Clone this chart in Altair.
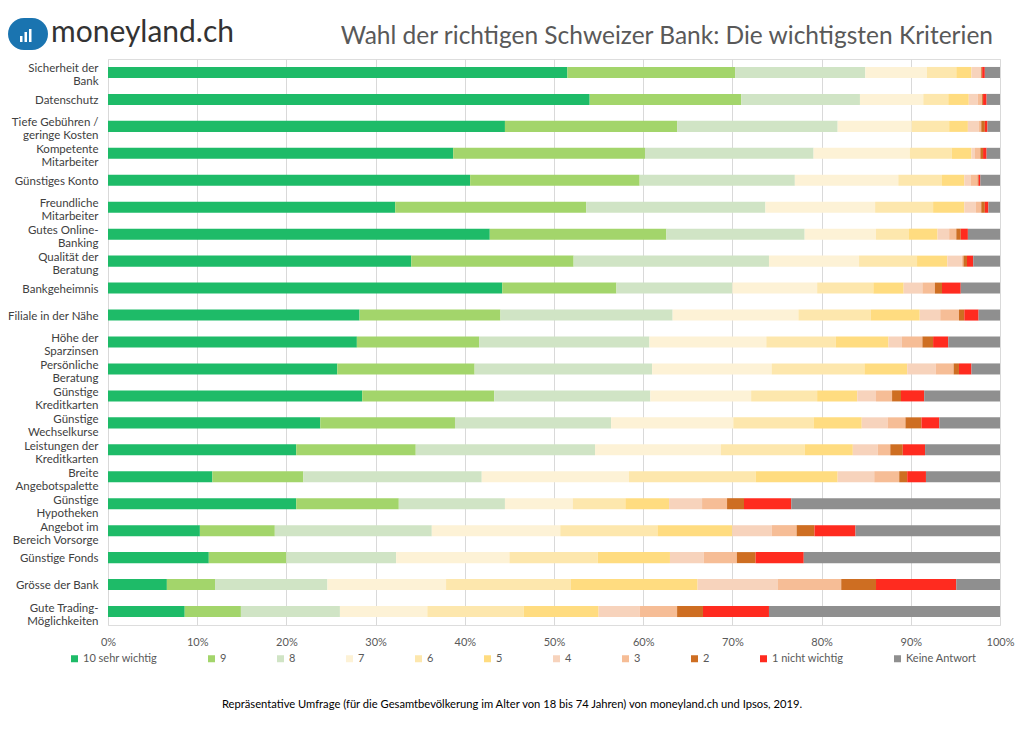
import altair as alt
import pandas as pd

# ---------------- data ----------------
categories = [
    "Sicherheit der|Bank", "Datenschutz", "Tiefe Gebühren /|geringe Kosten",
    "Kompetente|Mitarbeiter", "Günstiges Konto", "Freundliche|Mitarbeiter",
    "Gutes Online-|Banking", "Qualität der|Beratung", "Bankgeheimnis",
    "Filiale in der Nähe", "Höhe der|Sparzinsen", "Persönliche|Beratung",
    "Günstige|Kreditkarten", "Günstige|Wechselkurse", "Leistungen der|Kreditkarten",
    "Breite|Angebotspalette", "Günstige|Hypotheken", "Angebot im|Bereich Vorsorge",
    "Günstige Fonds", "Grösse der Bank", "Gute Trading-|Möglichkeiten",
]

ratings = ["10 sehr wichtig", "9", "8", "7", "6", "5", "4", "3", "2",
           "1 nicht wichtig", "Keine Antwort"]

colors = ["#1EBB68", "#A3D56B", "#D0E4C5", "#FDF2D6", "#FDE7AD", "#FFDC80",
          "#F7D3BC", "#F6BD96", "#CE6E22", "#FF2B1F", "#8F8F8F"]

s10 = [51.5, 54.0, 44.5, 38.7, 40.6, 32.2, 42.8, 34.0, 44.2, 28.2, 27.9, 25.7, 28.5, 23.8, 21.1, 11.7, 21.1, 10.3, 11.3, 6.6, 8.6]
s9 = [18.8, 17.0, 19.3, 21.5, 19.0, 21.4, 19.8, 18.2, 12.8, 15.8, 13.7, 15.4, 14.8, 15.1, 13.4, 10.2, 11.5, 8.4, 8.7, 5.4, 6.3]
s8 = [14.6, 13.3, 18.0, 18.9, 17.4, 20.1, 15.5, 21.9, 13.0, 19.3, 19.1, 19.9, 17.5, 17.5, 20.1, 20.0, 11.9, 17.6, 12.3, 12.6, 11.1]
s7 = [6.9, 7.1, 8.3, 10.8, 11.6, 12.3, 8.0, 10.1, 9.5, 14.1, 13.1, 13.4, 11.3, 13.7, 14.1, 16.5, 7.6, 14.4, 12.7, 13.3, 9.8]
s6 = [3.3, 2.8, 4.2, 4.7, 4.9, 6.5, 3.7, 6.5, 6.3, 8.1, 7.8, 10.4, 7.4, 9.0, 9.4, 14.2, 5.9, 10.9, 9.9, 14.0, 10.8]
s5 = [1.7, 2.3, 2.1, 2.2, 2.5, 3.5, 3.2, 3.4, 3.4, 5.5, 5.9, 4.8, 4.5, 5.4, 5.4, 9.2, 4.9, 8.4, 8.1, 14.2, 8.4]
s4 = [1.0, 1.0, 1.2, 0.4, 0.7, 1.3, 1.3, 1.6, 2.1, 2.3, 1.5, 3.2, 2.1, 2.9, 2.8, 4.1, 3.7, 4.4, 3.8, 9.0, 4.6]
s3 = [0.1, 0.5, 0.3, 0.6, 0.8, 0.6, 0.8, 0.2, 1.4, 2.1, 2.3, 2.0, 1.8, 2.0, 1.4, 2.8, 2.8, 2.8, 3.7, 7.1, 4.2]
s2 = [0.1, 0.1, 0.4, 0.3, 0.1, 0.4, 0.5, 0.4, 0.8, 0.6, 1.2, 0.6, 1.0, 1.8, 1.4, 0.9, 1.9, 2.0, 2.1, 3.9, 2.9]
s1 = [0.3, 0.4, 0.3, 0.4, 0.2, 0.4, 0.8, 0.7, 2.1, 1.6, 1.7, 1.4, 2.6, 2.0, 2.5, 2.1, 5.3, 4.6, 5.4, 9.0, 7.4]
s_ka = [1.7, 1.5, 1.4, 1.5, 2.2, 1.3, 3.6, 3.0, 4.4, 2.4, 5.8, 3.2, 8.5, 6.8, 8.4, 8.3, 23.4, 16.2, 22.0, 4.9, 25.9]

series = [s10, s9, s8, s7, s6, s5, s4, s3, s2, s1, s_ka]

x_ticks = [0.0, 0.1, 0.2, 0.3, 0.4, 0.5, 0.6, 0.7, 0.8, 0.9, 1.0]

title_text = ["Wahl der richtigen Schweizer Bank: Die wichtigsten Kriterien"]
logo_text = ["moneyland.ch"]
footer_text = ["Repräsentative Umfrage (für die Gesamtbevölkerung im Alter von 18 bis 74 Jahren) von moneyland.ch und Ipsos, 2019."]

rows = []
for ri, (r, vals) in enumerate(zip(ratings, series)):
    for c, v in zip(categories, vals):
        rows.append({"Kriterium": c, "Bewertung": r, "Anteil": v, "Reihenfolge": ri})
df = pd.DataFrame(rows)

FONT = "Lato"
W, H = 892, 566

bars = alt.Chart(df).mark_bar().encode(
    x=alt.X(
        "Anteil:Q", stack="normalize",
        scale=alt.Scale(domain=[0, 1], nice=False),
        axis=alt.Axis(
            title=None, format=".0%", values=x_ticks, grid=True,
            gridColor="#d9d9d9", gridWidth=1, domain=False, ticks=False,
            labelPadding=11, labelFont=FONT, labelFontSize=11,
            labelColor="#595959", labelFlush=False,
        ),
    ),
    y=alt.Y(
        "Kriterium:N", sort=categories,
        scale=alt.Scale(paddingInner=0.59, paddingOuter=0.295),
        axis=alt.Axis(
            title=None, domain=False, ticks=False, grid=False,
            labelExpr="split(datum.label, '|')", labelPadding=10,
            labelOffset=alt.condition("indexof(datum.value, '|') >= 0",
                                      alt.value(-3), alt.value(1.5)),
            labelFont=FONT, labelFontSize=11.5, labelColor="#404040",
            labelLineHeight=13, labelLimit=200,
        ),
    ),
    color=alt.Color(
        "Bewertung:N", sort=ratings,
        scale=alt.Scale(domain=ratings, range=colors),
        legend=alt.Legend(
            title=None, orient="none", legendX=-39, legendY=594,
            direction="horizontal", columns=11, columnPadding=48,
            symbolType="square", symbolSize=49, symbolStrokeWidth=0,
            labelFont=FONT, labelFontSize=11, labelColor="#595959",
            labelOffset=3, padding=0,
        ),
    ),
    order=alt.Order("Reihenfolge:Q", sort="ascending"),
)

logo_df = pd.DataFrame({"logo": logo_text})
title_df = pd.DataFrame({"title": title_text})
footer_df = pd.DataFrame({"footer": footer_text})

logo_icon = alt.Chart(logo_df).mark_rect(color="#1a74b0", cornerRadius=16).encode(
    x=alt.value(-100), x2=alt.value(-60), y=alt.value(-41), y2=alt.value(-9)
)
bar_a = alt.Chart(logo_df).mark_rect(color="white").encode(
    x=alt.value(-88), x2=alt.value(-85.5), y=alt.value(-23), y2=alt.value(-17)
)
bar_b = alt.Chart(logo_df).mark_rect(color="white").encode(
    x=alt.value(-83.5), x2=alt.value(-81), y=alt.value(-27), y2=alt.value(-17)
)
bar_c = alt.Chart(logo_df).mark_rect(color="white").encode(
    x=alt.value(-79), x2=alt.value(-76.5), y=alt.value(-30), y2=alt.value(-17)
)
logo_word = alt.Chart(logo_df).mark_text(
    align="left", baseline="alphabetic", font=FONT, fontSize=30, color="#333333"
).encode(x=alt.value(-57), y=alt.value(-17), text="logo:N")

title = alt.Chart(title_df).mark_text(
    align="right", baseline="alphabetic", font=FONT, fontSize=24.5, color="#595959"
).encode(x=alt.value(885), y=alt.value(-15), text="title:N")

footer = alt.Chart(footer_df).mark_text(
    align="center", baseline="middle", font=FONT, fontSize=11.2, color="#000000"
).encode(x=alt.value(404), y=alt.value(646), text="footer:N")

chart = alt.layer(bars, logo_icon, bar_a, bar_b, bar_c, logo_word, title, footer).properties(
    width=W, height=H,
    autosize=alt.AutoSizeParams(type="none"),
    padding={"left": 100, "top": 51, "right": 22, "bottom": 103},
).configure_view(strokeWidth=0).configure(background="white")

chart.save("out.html", embed_options={"renderer": "svg", "actions": False})
